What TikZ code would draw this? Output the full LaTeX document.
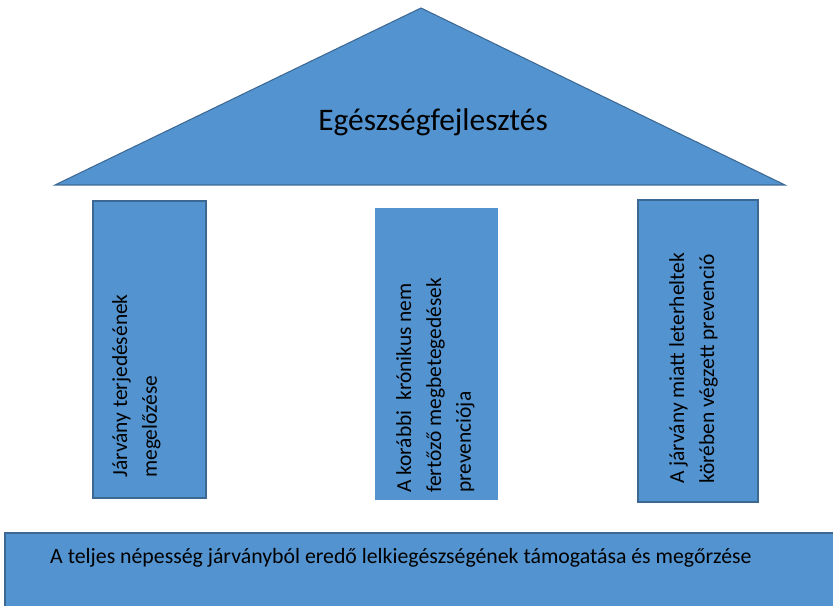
\documentclass[tikz,border=0pt]{standalone}
\usepackage{fontspec}
\setmainfont{Carlito}
\definecolor{pillarblue}{HTML}{5394D0}
\definecolor{edgeblue}{HTML}{3C6894}

\begin{document}
\begin{tikzpicture}[x=0.3mm,y=-0.3mm,
  housepart/.style={fill=pillarblue, draw=edgeblue, line width=0.9pt},
  textlbl/.style={inner sep=0pt, align=left, font=\fontsize{18.3}{25.5}\selectfont},
  pillartext/.style={textlbl, rotate=90, anchor=north west}]
  \useasboundingbox (0,0) rectangle (833,606);

  % roof
  \draw[housepart] (55,185) -- (421,8) -- (785,185) -- cycle;
  \node[inner sep=0pt, font=\fontsize{26.8}{30}\selectfont] (roof) at (433,122) {Egészségfejlesztés};

  % pillars
  \draw[housepart] (93,201) rectangle (206,498);
  \node[pillartext] (leftpillar) at (112,478) {Járvány terjedésének\\megelőzése};

  \fill[pillarblue] (375,208) rectangle (498,500);
  \node[pillartext] (midpillar) at (396,493) {A korábbi\ \ krónikus nem\\fertőző megbetegedések\\prevenciója};

  \draw[housepart] (638,200) rectangle (758,502);
  \node[pillartext] (rightpillar) at (669,484) {A járvány miatt leterheltek\\körében végzett prevenció};

  % foundation
  \draw[housepart] (5,533) rectangle (845,620);
  \node[textlbl, font=\fontsize{18.6}{25.5}\selectfont, anchor=west] (foundation) at (50,558) {A teljes népesség járványból eredő lelkiegészségének támogatása és megőrzése};
\end{tikzpicture}
\end{document}
